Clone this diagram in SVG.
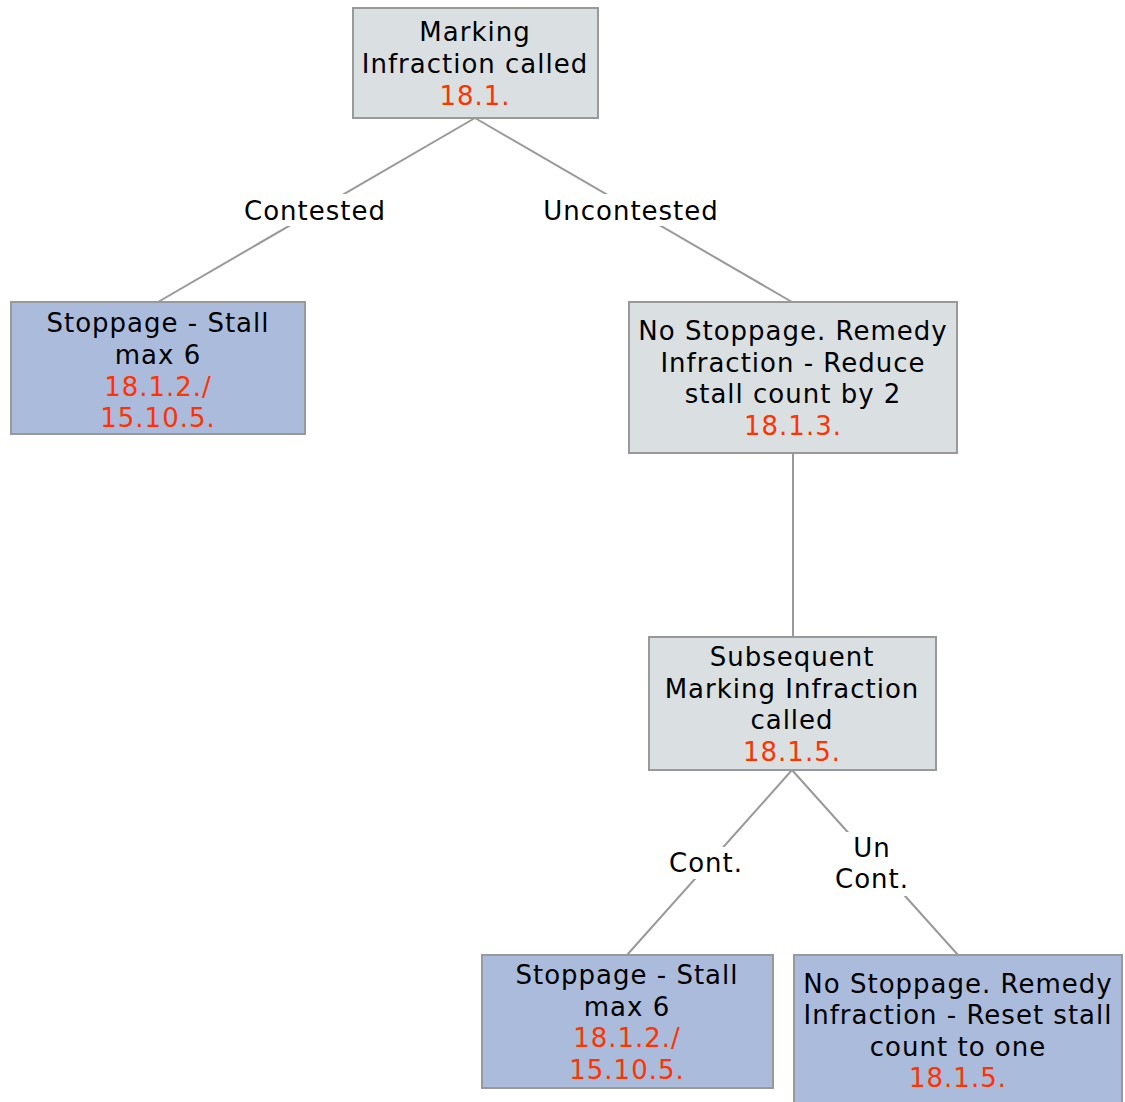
<svg xmlns="http://www.w3.org/2000/svg" width="1125" height="1102" viewBox="0 0 1125 1102">
<style>
text{font-family:"DejaVu Sans",Verdana,sans-serif;font-size:26px;letter-spacing:1px;text-anchor:middle;dominant-baseline:central;fill:#000}
.r{fill:#ff3300}
.g{fill:#dadfe2;stroke:#999;stroke-width:2}
.b{fill:#aabbdb;stroke:#999;stroke-width:2}
.e{stroke:#999;stroke-width:2;fill:none}
.lb{fill:#fff}
</style>
<rect width="1125" height="1102" fill="#fff"/>
<g id="connectors">
<path class="e" d="M475,118L158,302"/>
<path class="e" d="M475,118L792,302"/>
<path class="e" d="M793,453L793,637"/>
<path class="e" d="M792,770L627,955"/>
<path class="e" d="M792,770L958,955"/>
<rect class="lb" x="243" y="194" width="144" height="32"/>
<text x="315" y="211">Contested</text>
<rect class="lb" x="544" y="194" width="174" height="32"/>
<text x="631" y="211">Uncontested</text>
<rect class="lb" x="672" y="847" width="70" height="32"/>
<text x="706" y="863">Cont.</text>
<rect class="lb" x="834" y="832" width="76" height="64"/>
<text x="872" y="848">Un</text>
<text x="872" y="879">Cont.</text>
</g>
<g id="n1">
<rect class="g" x="353" y="8" width="245" height="110"/>
<text x="475" y="32">Marking</text>
<text x="475" y="64">Infraction called</text>
<text class="r" x="475" y="96">18.1.</text>
</g>
<g id="n2">
<rect class="b" x="11" y="302" width="294" height="132"/>
<text x="158" y="323">Stoppage - Stall</text>
<text x="158" y="355">max 6</text>
<text class="r" x="158" y="387">18.1.2./</text>
<text class="r" x="158" y="418">15.10.5.</text>
</g>
<g id="n3">
<rect class="g" x="629" y="302" width="328" height="151"/>
<text x="793" y="331">No Stoppage. Remedy</text>
<text x="793" y="363">Infraction - Reduce</text>
<text x="793" y="394">stall count by 2</text>
<text class="r" x="793" y="426">18.1.3.</text>
</g>
<g id="n4">
<rect class="g" x="649" y="637" width="287" height="133"/>
<text x="792" y="657">Subsequent</text>
<text x="792" y="689">Marking Infraction</text>
<text x="792" y="720">called</text>
<text class="r" x="792" y="752">18.1.5.</text>
</g>
<g id="n5">
<rect class="b" x="482" y="955" width="291" height="133"/>
<text x="627" y="975">Stoppage - Stall</text>
<text x="627" y="1007">max 6</text>
<text class="r" x="627" y="1038">18.1.2./</text>
<text class="r" x="627" y="1070">15.10.5.</text>
</g>
<g id="n6">
<rect class="b" x="794" y="955" width="328" height="152"/>
<text x="958" y="984">No Stoppage. Remedy</text>
<text x="958" y="1015">Infraction - Reset stall</text>
<text x="958" y="1047">count to one</text>
<text class="r" x="958" y="1078">18.1.5.</text>
</g>
</svg>
